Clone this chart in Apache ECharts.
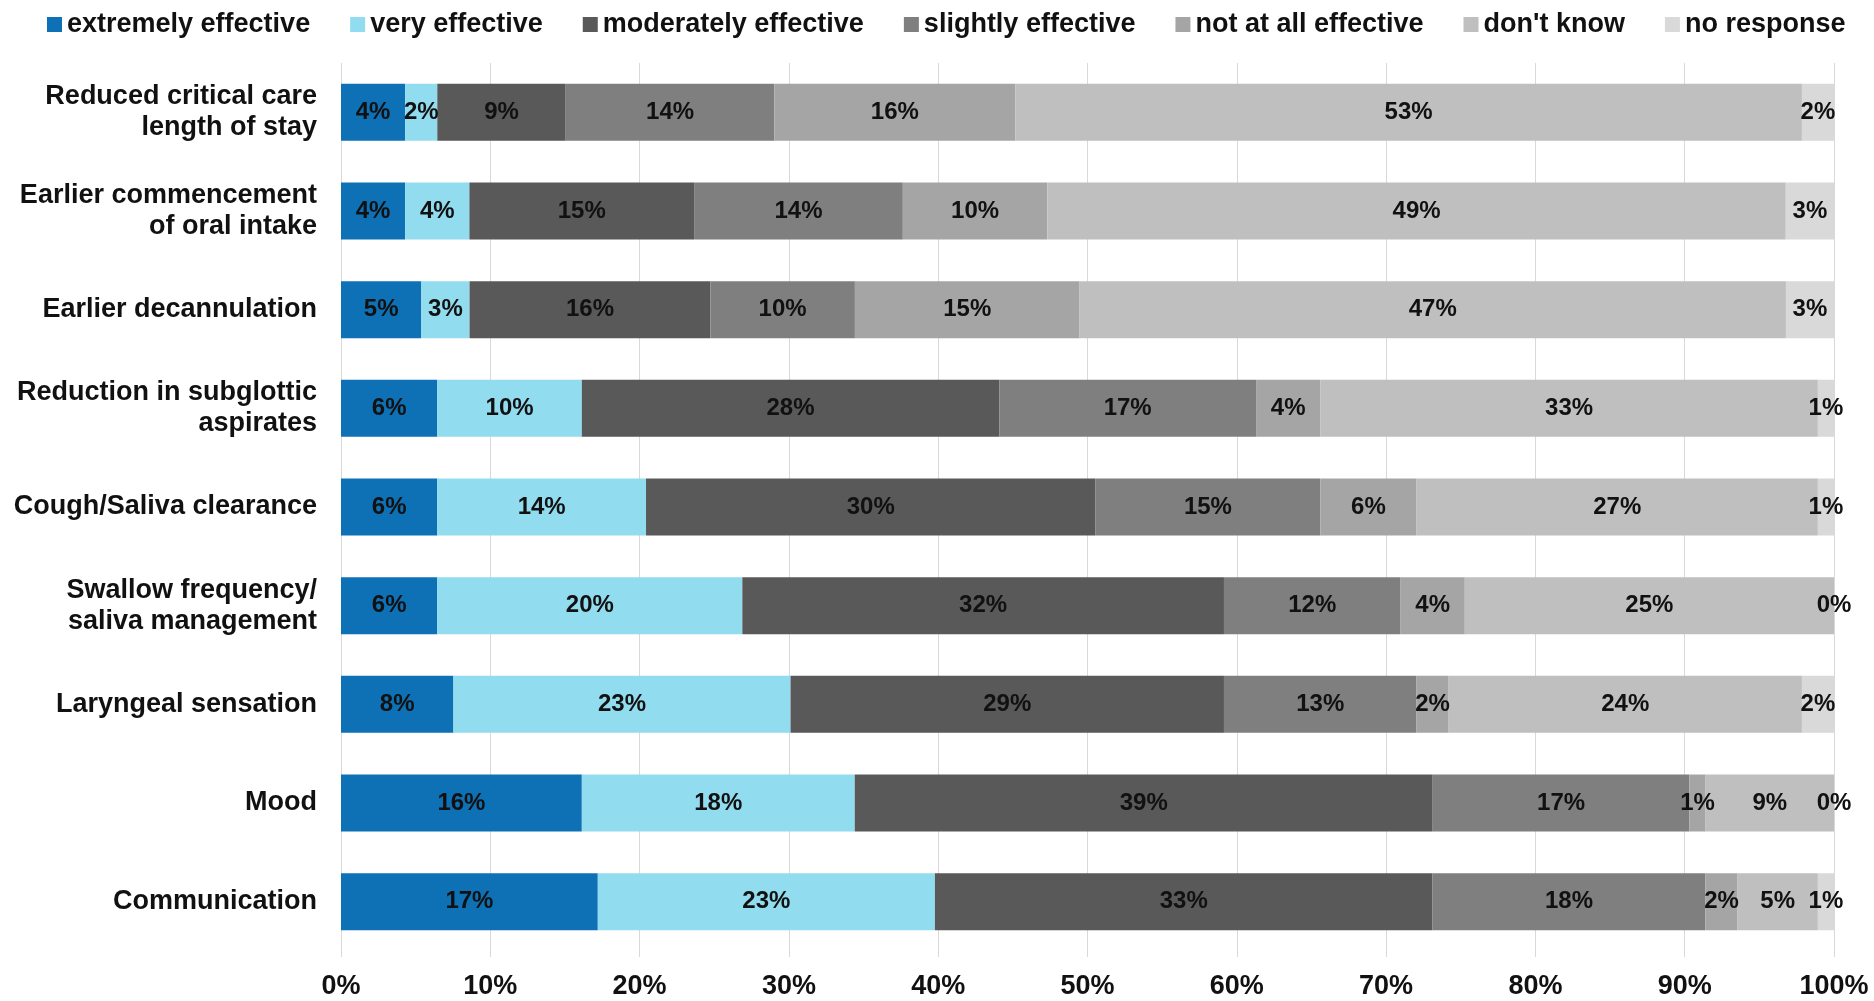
<!DOCTYPE html>
<html>
<head>
<meta charset="utf-8">
<title>Perceived effectiveness</title>
<script src="https://cdn.jsdelivr.net/npm/echarts@6/dist/echarts.min.js"></script>
<style>
  html, body { margin: 0; padding: 0; background: #ffffff; }
  #chart { width: 1874px; height: 1001px; }
</style>
</head>
<body>
<div id="chart"></div>
<script>
// Outcome categories, listed top to bottom
const categories = [
  'Reduced critical care\nlength of stay',
  'Earlier commencement\nof oral intake',
  'Earlier decannulation',
  'Reduction in subglottic\naspirates',
  'Cough/Saliva clearance',
  'Swallow frequency/\nsaliva management',
  'Laryngeal sensation',
  'Mood',
  'Communication'
];

// Response shares (% of respondents), same order as categories
const extremelyEffective = [4.30, 4.30, 5.38, 6.45, 6.45, 6.45, 7.53, 16.13, 17.20];
const veryEffective      = [2.15, 4.30, 3.23, 9.68, 13.98, 20.43, 22.58, 18.28, 22.58];
const moderatelyEffective= [8.60, 15.05, 16.13, 27.96, 30.11, 32.26, 29.03, 38.71, 33.33];
const slightlyEffective  = [13.98, 13.98, 9.68, 17.20, 15.05, 11.83, 12.90, 17.20, 18.28];
const notAtAllEffective  = [16.13, 9.68, 15.05, 4.30, 6.45, 4.30, 2.15, 1.08, 2.15];
const dontKnow           = [52.69, 49.46, 47.31, 33.33, 26.88, 24.73, 23.66, 8.60, 5.38];
const noResponse         = [2.15, 3.23, 3.23, 1.08, 1.08, 0, 2.15, 0, 1.08];

const seriesNames = ['extremely effective', 'very effective', 'moderately effective',
  'slightly effective', 'not at all effective', "don't know", 'no response'];
const seriesValues = [extremelyEffective, veryEffective, moderatelyEffective,
  slightlyEffective, notAtAllEffective, dontKnow, noResponse];
const seriesColors = ['#0e71b6', '#92dcef', '#595959', '#7f7f7f', '#a5a5a5', '#bfbfbf', '#d9d9d9'];

const xTickValues = [0, 10, 20, 30, 40, 50, 60, 70, 80, 90, 100];

const FONT = "'Liberation Sans', Arial, sans-serif";
const TEXT_COLOR = '#111111';

const chart = echarts.init(document.getElementById('chart'), null, { renderer: 'canvas' });

const series = seriesNames.map((name, i) => ({
  name: name,
  type: 'bar',
  stack: 'total',
  barWidth: 57,
  itemStyle: { color: seriesColors[i] },
  label: {
    show: true,
    position: 'inside',
    fontFamily: FONT,
    fontSize: 24,
    fontWeight: 'bold',
    color: TEXT_COLOR,
    formatter: p => Math.round(p.value) + '%'
  },
  emphasis: { disabled: true },
  data: seriesValues[i]
}));

chart.setOption({
  animation: false,
  backgroundColor: '#ffffff',
  legend: {
    data: seriesNames,
    left: 47,
    top: 11,
    padding: 0,
    icon: 'rect',
    itemWidth: 15,
    itemHeight: 15,
    itemGap: 40,
    textStyle: { fontFamily: FONT, fontSize: 27, fontWeight: 'bold', color: TEXT_COLOR }
  },
  grid: { left: 341, right: 40, top: 63, bottom: 50, containLabel: false },
  xAxis: {
    type: 'value',
    min: xTickValues[0],
    max: xTickValues[xTickValues.length - 1],
    interval: xTickValues[1] - xTickValues[0],
    axisLine: { show: false },
    axisTick: { show: true, length: 6, lineStyle: { color: '#d9d9d9' } },
    splitLine: { show: true, lineStyle: { color: '#d9d9d9', width: 1 } },
    axisLabel: {
      margin: 22,
      fontFamily: FONT,
      fontSize: 27,
      fontWeight: 'bold',
      color: TEXT_COLOR,
      formatter: '{value}%'
    }
  },
  yAxis: {
    type: 'category',
    data: categories,
    inverse: true,
    axisLine: { show: false },
    axisTick: { show: false },
    axisLabel: {
      margin: 24,
      fontFamily: FONT,
      fontSize: 27,
      fontWeight: 'bold',
      lineHeight: 31,
      align: 'right',
      color: TEXT_COLOR
    }
  },
  series: series
});
</script>
</body>
</html>
